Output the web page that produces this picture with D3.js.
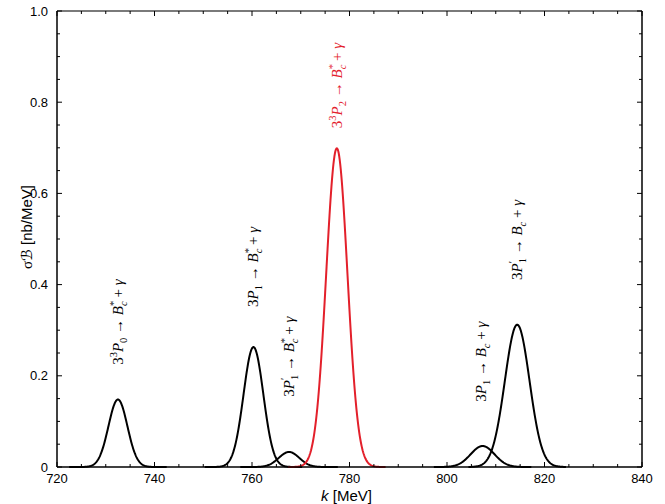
<!DOCTYPE html>
<html>
<head>
<meta charset="utf-8">
<script src="https://cdn.jsdelivr.net/npm/d3@7"></script>
<style>
  body { margin: 0; background: #fff; }
  svg { display: block; }
  .tick-label { font-family: "Liberation Sans", Arial, sans-serif; font-size: 13px; fill: #000; }
  .axis-title { font-family: "Liberation Sans", Arial, sans-serif; font-size: 15px; fill: #000; }
  .peak-label { font-family: "Liberation Serif", "Times New Roman", serif; font-size: 15px; }
</style>
</head>
<body>
<div id="chart"></div>
<script>
// peak parameters (k in MeV, height in nb/MeV)
const peakNames = ["3P0*", "3P1*", "3P1'*", "3P2*", "3P1", "3P1'"];
const peakCenters = [732.5, 760.3, 767.6, 777.4, 807.3, 814.4];
const peakHeights = [0.148, 0.263, 0.033, 0.699, 0.046, 0.312];
const peakWidths = [1.94, 2.03, 2.10, 2.18, 2.45, 2.53];
const peakColors = ["#000", "#000", "#000", "#e3202b", "#000", "#000"];

// where each label starts (bottom of the rotated text), in data units
const labelK = [732.5, 760.3, 767.6, 777.4, 806.9, 814.4];
const labelY = [0.224, 0.351, 0.154, 0.743, 0.143, 0.410];

// label pieces: [text, kind]  kinds: n normal, i italic, sup, sub, stack (sub under previous sup)
const labelParts = [
  [["3", "n"], ["3", "sup"], ["P", "i"], ["0", "sub"], [" \u2192 ", "n"], ["B", "i"], ["*", "sup"], ["c", "stack"], [" + ", "n"], ["\u03b3", "i"]],
  [["3", "n"], ["P", "i"], ["1", "sub"], [" \u2192 ", "n"], ["B", "i"], ["*", "sup"], ["c", "stack"], [" + ", "n"], ["\u03b3", "i"]],
  [["3", "n"], ["P", "i"], ["\u2032", "sup"], ["1", "stack"], [" \u2192 ", "n"], ["B", "i"], ["*", "sup"], ["c", "stack"], [" + ", "n"], ["\u03b3", "i"]],
  [["3", "n"], ["3", "sup"], ["P", "i"], ["2", "sub"], [" \u2192 ", "n"], ["B", "i"], ["*", "sup"], ["c", "stack"], [" + ", "n"], ["\u03b3", "i"]],
  [["3", "n"], ["P", "i"], ["1", "sub"], [" \u2192 ", "n"], ["B", "i"], ["c", "sub"], [" + ", "n"], ["\u03b3", "i"]],
  [["3", "n"], ["P", "i"], ["\u2032", "sup"], ["1", "stack"], [" \u2192 ", "n"], ["B", "i"], ["c", "sub"], [" + ", "n"], ["\u03b3", "i"]]
];

const xTicks = [720, 740, 760, 780, 800, 820, 840];
const yTicks = [0, 0.2, 0.4, 0.6, 0.8, 1.0];
const yTickLabels = ["0", "0.2", "0.4", "0.6", "0.8", "1.0"];

const width = 665, height = 504;
const margin = { top: 11, right: 23, bottom: 37, left: 57 };

const svg = d3.select("#chart").append("svg")
  .attr("width", width)
  .attr("height", height);

const x = d3.scaleLinear().domain([720, 840]).range([margin.left, width - margin.right]);
const y = d3.scaleLinear().domain([0, 1]).range([height - margin.bottom, margin.top]);

const x0 = x.range()[0], x1 = x.range()[1];
const yb = y.range()[0], yt = y.range()[1];

// curves (gaussian line shapes over +-10 MeV around each peak)
const line = d3.line().x(d => x(d[0])).y(d => y(d[1]));
peakCenters.forEach((c, i) => {
  const pts = d3.range(c - 10, c + 10.01, 0.1).map(k =>
    [k, peakHeights[i] * Math.exp(-0.5 * Math.pow((k - c) / peakWidths[i], 2))]);
  svg.append("path")
    .datum(pts)
    .attr("d", line)
    .attr("fill", "none")
    .attr("stroke", peakColors[i])
    .attr("stroke-width", 2)
    .attr("stroke-linejoin", "round");
});

// frame
svg.append("line").attr("x1", x0).attr("x2", x1).attr("y1", yt).attr("y2", yt)
  .attr("stroke", "#7a7a7a").attr("stroke-width", 2);
svg.append("line").attr("x1", x0).attr("x2", x1).attr("y1", yb).attr("y2", yb)
  .attr("stroke", "#000").attr("stroke-width", 1.5);
svg.append("line").attr("x1", x0).attr("x2", x0).attr("y1", yt).attr("y2", yb)
  .attr("stroke", "#000").attr("stroke-width", 1.5);
svg.append("line").attr("x1", x1).attr("x2", x1).attr("y1", yt).attr("y2", yb)
  .attr("stroke", "#000").attr("stroke-width", 1.5);

// inward ticks on all four sides
const ticks = svg.append("g").attr("stroke", "#000").attr("stroke-width", 1);
x.ticks(24).forEach(v => {
  const len = v % 20 === 0 ? 5 : 3;
  ticks.append("line").attr("x1", x(v)).attr("x2", x(v)).attr("y1", yb).attr("y2", yb - len);
  ticks.append("line").attr("x1", x(v)).attr("x2", x(v)).attr("y1", yt).attr("y2", yt + len);
});
y.ticks(20).forEach(v => {
  const major = Math.abs(v * 5 - Math.round(v * 5)) < 1e-6;
  const len = major ? 5 : 3;
  ticks.append("line").attr("x1", x0).attr("x2", x0 + len).attr("y1", y(v)).attr("y2", y(v));
  ticks.append("line").attr("x1", x1).attr("x2", x1 - len).attr("y1", y(v)).attr("y2", y(v));
});

// tick labels
svg.selectAll(".xl").data(xTicks).enter().append("text")
  .attr("class", "tick-label")
  .attr("x", d => x(d))
  .attr("y", yb + 16)
  .attr("text-anchor", "middle")
  .text(d => d);

svg.selectAll(".yl").data(yTicks).enter().append("text")
  .attr("class", "tick-label")
  .attr("x", x0 - 9)
  .attr("y", d => y(d))
  .attr("dy", "0.35em")
  .attr("text-anchor", "end")
  .text((d, i) => yTickLabels[i]);

// axis titles
const xt = svg.append("text").attr("class", "axis-title")
  .attr("x", (x0 + x1) / 2 - 3).attr("y", height - 3).attr("text-anchor", "middle");
xt.append("tspan").attr("font-style", "italic").text("k");
xt.append("tspan").text(" [MeV]");

const yTitle = svg.append("text").attr("class", "axis-title")
  .attr("transform", `translate(32,${(yt + yb) / 2 - 12}) rotate(-90)`)
  .attr("text-anchor", "middle");
yTitle.append("tspan").attr("font-family", "Liberation Serif, serif").text("\u03c3");
yTitle.append("tspan").attr("font-family", "DejaVu Sans, sans-serif").text("\u212c");
yTitle.append("tspan").text(" [nb/MeV]");

// peak labels, rotated to read bottom-to-top
labelParts.forEach((parts, i) => {
  const t = svg.append("text")
    .attr("class", "peak-label")
    .attr("fill", peakColors[i])
    .attr("transform", `translate(${x(labelK[i]) + 5},${y(labelY[i])}) rotate(-90)`);
  let shift = 0, lastSupWidth = 0;
  parts.forEach(([txt, kind]) => {
    const s = t.append("tspan").text(txt);
    let target = 0;
    if (kind === "i") s.attr("font-style", "italic");
    if (kind === "sup") { s.attr("font-size", "10.5px"); target = -6; }
    if (kind === "sub" || kind === "stack") { s.attr("font-size", "10.5px"); target = 4; }
    if (txt === "c") s.attr("font-style", "italic");
    if (kind === "stack") s.attr("dx", -lastSupWidth);
    s.attr("dy", target - shift);
    shift = target;
    if (kind === "sup") lastSupWidth = s.node().getComputedTextLength();
  });
});
</script>
</body>
</html>
